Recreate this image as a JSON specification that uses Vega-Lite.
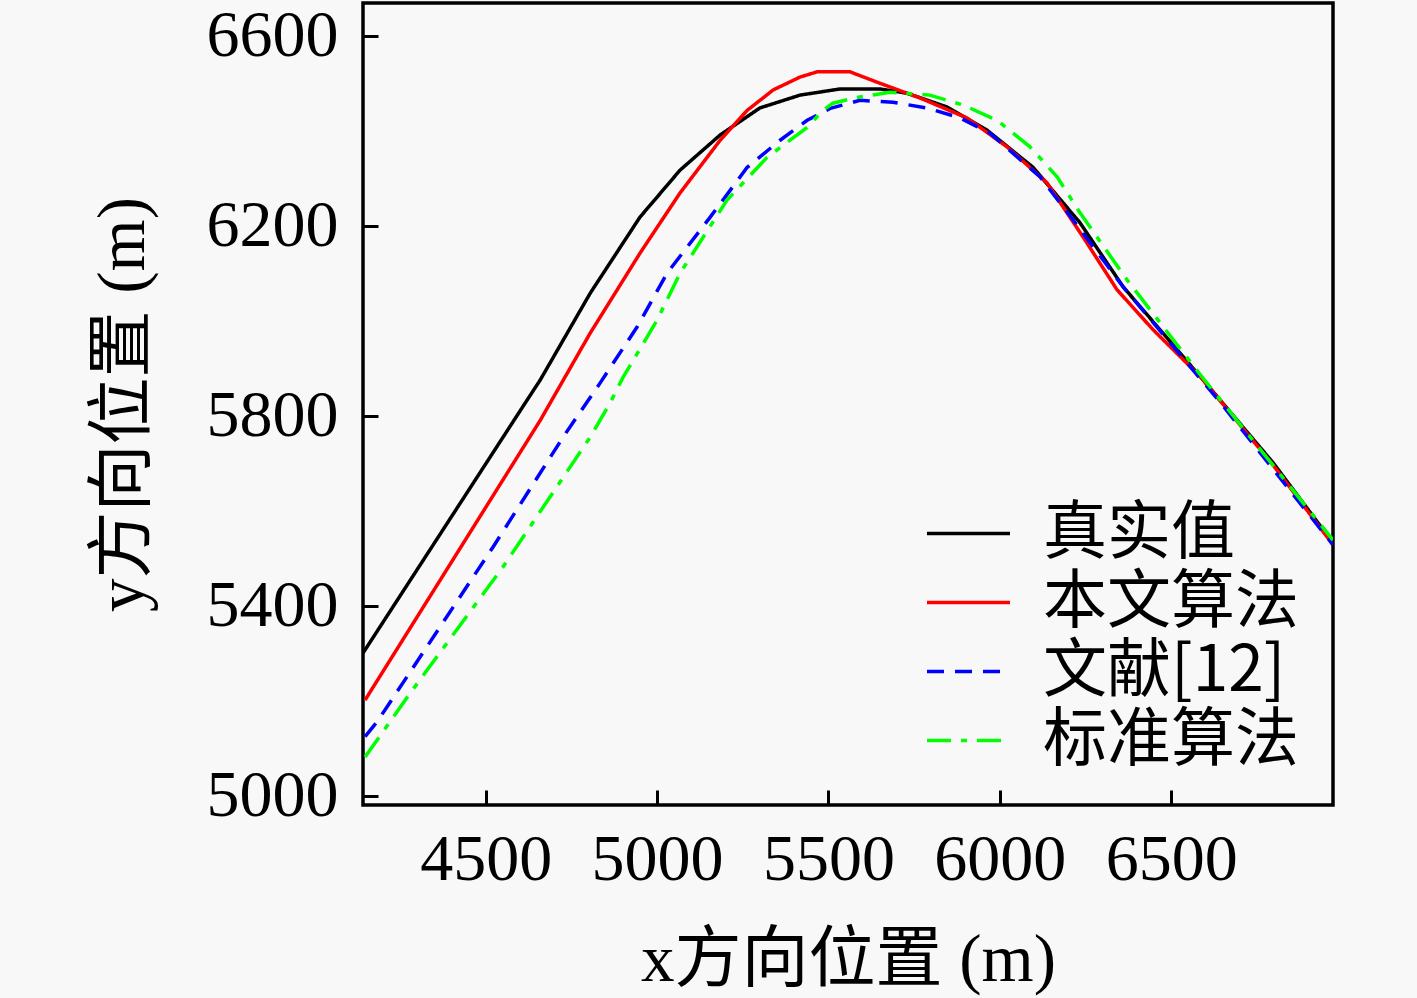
{
  "$schema": "https://vega.github.io/schema/vega-lite/v6.json",
  "width": 970,
  "height": 802,
  "autosize": {"type": "none"},
  "padding": {"left": 363, "top": 3, "right": 84, "bottom": 193},
  "background": "#f8f8f8",
  "config": {
    "view": {"stroke": "black", "strokeWidth": 3.5},
    "axis": {
      "grid": false,
      "domain": false,
      "tickColor": "black",
      "tickWidth": 3,
      "tickSize": -15,
      "labelFont": "Liberation Serif, Noto Sans CJK SC",
      "labelFontSize": 66,
      "labelColor": "black",
      "titleFont": "Liberation Serif, Noto Sans CJK SC",
      "titleFontSize": 67,
      "titleFontWeight": "normal",
      "titleColor": "black"
    },
    "legend": {
      "orient": "none",
      "legendX": 562,
      "legendY": 496,
      "padding": 0,
      "labelFont": "Noto Sans CJK SC, Liberation Serif",
      "labelFontSize": 64,
      "labelColor": "black",
      "labelLimit": 500,
      "labelOffset": 31,
      "symbolType": "stroke",
      "symbolSize": 6889,
      "symbolStrokeWidth": 3.5,
      "clipHeight": 69,
      "rowPadding": 0
    }
  },
  "data": {
    "values": [
      {"s": "真实值", "x": 4142, "y": 5300},
      {"s": "真实值", "x": 4621, "y": 5833},
      {"s": "真实值", "x": 4659, "y": 5875},
      {"s": "真实值", "x": 4805, "y": 6058},
      {"s": "真实值", "x": 4950, "y": 6218},
      {"s": "真实值", "x": 5067, "y": 6317},
      {"s": "真实值", "x": 5184, "y": 6391},
      {"s": "真实值", "x": 5300, "y": 6448},
      {"s": "真实值", "x": 5417, "y": 6475},
      {"s": "真实值", "x": 5534, "y": 6488},
      {"s": "真实值", "x": 5650, "y": 6488},
      {"s": "真实值", "x": 5729, "y": 6479},
      {"s": "真实值", "x": 5846, "y": 6450},
      {"s": "真实值", "x": 5963, "y": 6401},
      {"s": "真实值", "x": 6097, "y": 6323},
      {"s": "真实值", "x": 6234, "y": 6206},
      {"s": "真实值", "x": 6360, "y": 6071},
      {"s": "真实值", "x": 6585, "y": 5882},
      {"s": "真实值", "x": 6797, "y": 5701},
      {"s": "真实值", "x": 6972, "y": 5532},

      {"s": "本文算法", "x": 4148, "y": 5201},
      {"s": "本文算法", "x": 4659, "y": 5790},
      {"s": "本文算法", "x": 4805, "y": 5974},
      {"s": "本文算法", "x": 4950, "y": 6142},
      {"s": "本文算法", "x": 5067, "y": 6269},
      {"s": "本文算法", "x": 5184, "y": 6380},
      {"s": "本文算法", "x": 5263, "y": 6443},
      {"s": "本文算法", "x": 5339, "y": 6486},
      {"s": "本文算法", "x": 5417, "y": 6513},
      {"s": "本文算法", "x": 5467, "y": 6524},
      {"s": "本文算法", "x": 5563, "y": 6524},
      {"s": "本文算法", "x": 5650, "y": 6500},
      {"s": "本文算法", "x": 5767, "y": 6469},
      {"s": "本文算法", "x": 5904, "y": 6427},
      {"s": "本文算法", "x": 6021, "y": 6366},
      {"s": "本文算法", "x": 6138, "y": 6290},
      {"s": "本文算法", "x": 6243, "y": 6176},
      {"s": "本文算法", "x": 6342, "y": 6065},
      {"s": "本文算法", "x": 6447, "y": 5981},
      {"s": "本文算法", "x": 6585, "y": 5882},
      {"s": "本文算法", "x": 6797, "y": 5696},
      {"s": "本文算法", "x": 6972, "y": 5528},

      {"s": "文献[12]", "x": 4148, "y": 5124},
      {"s": "文献[12]", "x": 4183, "y": 5155},
      {"s": "文献[12]", "x": 4522, "y": 5524},
      {"s": "文献[12]", "x": 4726, "y": 5755},
      {"s": "文献[12]", "x": 4834, "y": 5869},
      {"s": "文献[12]", "x": 4942, "y": 5987},
      {"s": "文献[12]", "x": 5029, "y": 6100},
      {"s": "文献[12]", "x": 5155, "y": 6218},
      {"s": "文献[12]", "x": 5263, "y": 6323},
      {"s": "文献[12]", "x": 5359, "y": 6380},
      {"s": "文献[12]", "x": 5438, "y": 6422},
      {"s": "文献[12]", "x": 5505, "y": 6447},
      {"s": "文献[12]", "x": 5592, "y": 6464},
      {"s": "文献[12]", "x": 5688, "y": 6460},
      {"s": "文献[12]", "x": 5787, "y": 6448},
      {"s": "文献[12]", "x": 5884, "y": 6427},
      {"s": "文献[12]", "x": 5971, "y": 6395},
      {"s": "文献[12]", "x": 6117, "y": 6303},
      {"s": "文献[12]", "x": 6214, "y": 6212},
      {"s": "文献[12]", "x": 6360, "y": 6071},
      {"s": "文献[12]", "x": 6643, "y": 5828},
      {"s": "文献[12]", "x": 6972, "y": 5528},

      {"s": "标准算法", "x": 4148, "y": 5081},
      {"s": "标准算法", "x": 4280, "y": 5216},
      {"s": "标准算法", "x": 4551, "y": 5482},
      {"s": "标准算法", "x": 4805, "y": 5755},
      {"s": "标准算法", "x": 4863, "y": 5827},
      {"s": "标准算法", "x": 4901, "y": 5881},
      {"s": "标准算法", "x": 5000, "y": 6001},
      {"s": "标准算法", "x": 5067, "y": 6100},
      {"s": "标准算法", "x": 5204, "y": 6254},
      {"s": "标准算法", "x": 5321, "y": 6344},
      {"s": "标准算法", "x": 5438, "y": 6407},
      {"s": "标准算法", "x": 5484, "y": 6443},
      {"s": "标准算法", "x": 5513, "y": 6458},
      {"s": "标准算法", "x": 5583, "y": 6470},
      {"s": "标准算法", "x": 5680, "y": 6481},
      {"s": "标准算法", "x": 5796, "y": 6475},
      {"s": "标准算法", "x": 5893, "y": 6454},
      {"s": "标准算法", "x": 5992, "y": 6422},
      {"s": "标准算法", "x": 6088, "y": 6366},
      {"s": "标准算法", "x": 6167, "y": 6303},
      {"s": "标准算法", "x": 6234, "y": 6227},
      {"s": "标准算法", "x": 6371, "y": 6086},
      {"s": "标准算法", "x": 6585, "y": 5886},
      {"s": "标准算法", "x": 6972, "y": 5538}
    ]
  },
  "mark": {"type": "line", "strokeWidth": 3.5, "clip": true},
  "encoding": {
    "x": {
      "field": "x",
      "type": "quantitative",
      "scale": {"domain": [4142, 6972], "nice": false, "zero": false},
      "axis": {
        "values": [4500, 5000, 5500, 6000, 6500],
        "format": "d",
        "title": "x方向位置 (m)",
        "labelPadding": 37,
        "titleBaseline": "middle",
        "titleY": 155
      }
    },
    "y": {
      "field": "y",
      "type": "quantitative",
      "scale": {"domain": [4980, 6669], "nice": false, "zero": false},
      "axis": {
        "values": [5000, 5400, 5800, 6200, 6600],
        "format": "d",
        "title": "y方向位置 (m)",
        "labelPadding": 40,
        "titleBaseline": "middle",
        "titleX": -240
      }
    },
    "color": {
      "field": "s",
      "type": "nominal",
      "title": null,
      "scale": {
        "domain": ["真实值", "本文算法", "文献[12]", "标准算法"],
        "range": ["#000000", "#ff0000", "#0000ff", "#00ff00"]
      }
    },
    "strokeDash": {
      "field": "s",
      "type": "nominal",
      "title": null,
      "scale": {
        "domain": ["真实值", "本文算法", "文献[12]", "标准算法"],
        "range": [[1, 0], [1, 0], [17, 11], [24, 10, 6, 10]]
      }
    }
  }
}
